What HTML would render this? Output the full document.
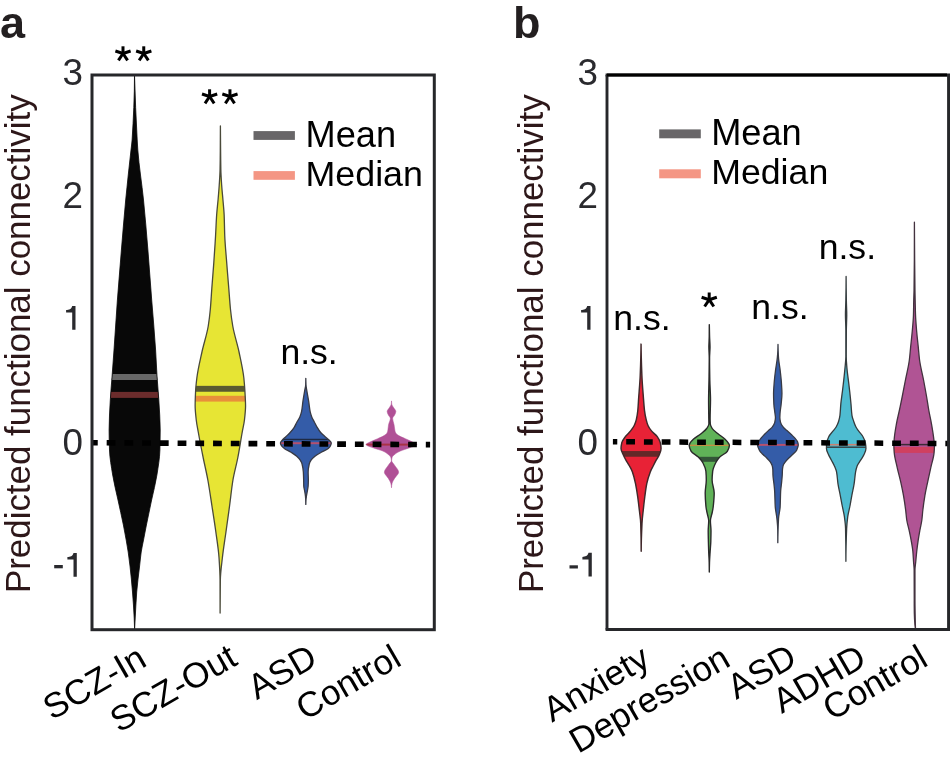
<!DOCTYPE html>
<html><head><meta charset="utf-8"><style>
html,body{margin:0;padding:0;background:#fff;width:950px;height:768px;overflow:hidden}
svg{display:block;will-change:transform}
text{font-family:"Liberation Sans",sans-serif}
</style></head><body>
<svg width="950" height="768" viewBox="0 0 950 768">
<rect width="950" height="768" fill="#fff"/>
<defs>
<clipPath id="c_sczin"><path d="M134.50,75.00 C135.05,96.67 136.09,118.33 137.20,140.00 C137.37,143.33 137.55,146.67 137.80,150.00 C139.03,166.67 141.84,183.33 143.50,200.00 C145.16,216.67 146.54,233.33 147.90,250.00 C149.26,266.67 150.42,283.33 151.70,300.00 C152.98,316.67 154.56,333.33 155.60,350.00 C156.14,358.67 156.46,367.33 157.00,376.00 C157.50,384.00 158.34,392.00 158.80,400.00 C159.38,410.00 160.20,420.00 160.20,430.00 C160.20,436.67 160.07,443.33 159.90,450.00 C159.68,458.33 158.18,466.67 156.90,475.00 C155.62,483.33 153.35,491.67 151.60,500.00 C149.85,508.33 148.06,516.67 146.40,525.00 C145.40,530.00 144.46,535.00 143.50,540.00 C142.73,544.00 141.78,548.00 141.20,552.00 C140.53,556.67 140.13,561.33 139.60,566.00 C138.62,574.67 137.36,583.33 136.70,592.00 C136.04,600.67 135.67,609.33 135.20,618.00 C134.99,621.83 134.79,625.67 134.60,629.50 C134.50,625.67 134.37,621.83 134.20,618.00 C133.82,609.33 133.17,600.67 132.50,592.00 C131.83,583.33 130.97,574.67 130.00,566.00 C129.48,561.33 128.88,556.67 128.20,552.00 C127.62,548.00 126.90,544.00 126.20,540.00 C125.32,535.00 124.40,530.00 123.40,525.00 C121.74,516.67 119.78,508.33 118.00,500.00 C116.22,491.67 114.03,483.33 112.70,475.00 C111.37,466.67 109.78,458.33 109.50,450.00 C109.28,443.33 109.10,436.67 109.10,430.00 C109.10,420.00 109.77,410.00 110.30,400.00 C110.72,392.00 111.51,384.00 112.10,376.00 C112.74,367.33 113.39,358.67 114.00,350.00 C115.18,333.33 116.17,316.67 117.40,300.00 C118.63,283.33 120.02,266.67 121.40,250.00 C122.78,233.33 124.12,216.67 125.70,200.00 C127.28,183.33 129.19,166.67 131.00,150.00 C131.36,146.67 131.89,143.33 132.10,140.00 C133.46,118.33 134.50,96.67 134.50,75.00Z"/></clipPath>
<clipPath id="c_sczout"><path d="M220.40,126.00 C220.45,134.00 220.52,142.00 220.60,150.00 C220.67,156.67 220.71,163.33 220.85,170.00 C220.95,175.00 221.32,180.00 221.65,185.00 C221.98,190.00 222.53,195.00 222.95,200.00 C223.37,205.00 223.93,210.00 224.15,215.00 C224.45,222.00 224.47,229.00 224.75,236.00 C225.10,244.67 225.99,253.33 226.65,262.00 C227.31,270.67 228.05,279.33 228.75,288.00 C229.35,295.33 229.79,302.67 230.55,310.00 C231.10,315.33 231.83,320.67 232.75,326.00 C234.24,334.67 237.23,343.33 239.05,352.00 C240.87,360.67 242.93,369.33 243.85,378.00 C244.34,382.67 244.69,387.33 244.95,392.00 C245.21,396.67 245.55,401.33 245.55,406.00 C245.55,410.67 244.97,415.33 244.45,420.00 C244.01,424.00 242.96,428.00 242.25,432.00 C240.70,440.67 239.43,449.33 237.75,458.00 C236.33,465.33 234.16,472.67 232.95,480.00 C231.52,488.67 230.72,497.33 229.55,506.00 C228.38,514.67 227.15,523.33 225.95,532.00 C224.75,540.67 223.30,549.33 222.35,558.00 C221.55,565.33 220.46,572.67 220.35,580.00 C220.19,591.00 220.10,602.00 220.10,613.00 C220.10,602.00 220.08,591.00 220.05,580.00 C220.03,572.67 219.53,565.33 219.05,558.00 C218.48,549.33 217.02,540.67 215.85,532.00 C214.68,523.33 213.28,514.67 211.95,506.00 C210.62,497.33 209.41,488.67 207.85,480.00 C206.53,472.67 204.72,465.33 203.25,458.00 C201.51,449.33 199.78,440.67 198.25,432.00 C197.54,428.00 196.68,424.00 196.25,420.00 C195.75,415.33 195.15,410.67 195.15,406.00 C195.15,401.33 195.35,396.67 195.55,392.00 C195.75,387.33 196.28,382.67 196.85,378.00 C197.90,369.33 200.07,360.67 201.95,352.00 C203.83,343.33 206.86,334.67 208.25,326.00 C209.11,320.67 209.75,315.33 210.25,310.00 C210.93,302.67 211.30,295.33 211.85,288.00 C212.50,279.33 213.24,270.67 213.85,262.00 C214.46,253.33 215.05,244.67 215.55,236.00 C215.96,229.00 216.17,222.00 216.65,215.00 C216.99,210.00 217.62,205.00 218.05,200.00 C218.48,195.00 218.93,190.00 219.25,185.00 C219.57,180.00 219.95,175.00 220.05,170.00 C220.19,163.33 220.26,156.67 220.30,150.00 C220.35,142.00 220.40,134.00 220.40,126.00Z"/></clipPath>
<clipPath id="c_asda"><path d="M305.80,378.30 C305.80,380.53 305.89,382.77 306.00,385.00 C306.10,386.93 306.55,388.87 306.85,390.80 C307.40,394.27 308.11,397.73 308.65,401.20 C309.20,404.70 309.44,408.20 310.15,411.70 C310.50,413.43 311.08,415.17 311.75,416.90 C312.40,418.60 313.47,420.30 314.35,422.00 C315.27,423.77 316.10,425.53 317.15,427.30 C318.18,429.03 319.21,430.77 320.65,432.50 C321.82,433.90 323.59,435.30 325.15,436.70 C326.37,437.80 327.94,438.90 328.95,440.00 C329.87,441.00 331.25,442.00 331.25,443.00 C331.25,444.00 330.81,445.00 330.35,446.00 C329.99,446.80 329.17,447.60 328.25,448.40 C326.76,449.70 323.46,451.00 321.25,452.30 C319.04,453.60 316.53,454.90 314.95,456.20 C313.33,457.53 311.90,458.87 311.05,460.20 C310.24,461.47 309.54,462.73 309.25,464.00 C308.64,466.67 308.15,469.33 308.15,472.00 C308.15,474.67 308.35,477.33 308.35,480.00 C308.35,482.00 308.26,484.00 308.15,486.00 C308.07,487.33 307.77,488.67 307.55,490.00 C307.22,492.00 306.75,494.00 306.45,496.00 C306.28,497.17 306.07,498.33 306.00,499.50 C305.90,501.13 305.80,502.77 305.80,504.40 C305.80,502.77 305.75,501.13 305.70,499.50 C305.66,498.33 305.56,497.17 305.45,496.00 C305.26,494.00 304.79,492.00 304.45,490.00 C304.22,488.67 303.79,487.33 303.75,486.00 C303.69,484.00 303.70,482.00 303.65,480.00 C303.59,477.33 303.51,474.67 303.35,472.00 C303.19,469.33 302.74,466.67 302.05,464.00 C301.72,462.73 301.03,461.47 300.25,460.20 C299.43,458.87 298.21,457.53 296.75,456.20 C295.33,454.90 293.12,453.60 291.05,452.30 C288.98,451.00 285.96,449.70 284.25,448.40 C283.20,447.60 282.13,446.80 281.65,446.00 C281.06,445.00 280.45,444.00 280.45,443.00 C280.45,442.00 281.64,441.00 282.45,440.00 C283.34,438.90 284.72,437.80 285.85,436.70 C287.29,435.30 288.90,433.90 290.15,432.50 C291.70,430.77 293.18,429.03 294.25,427.30 C295.34,425.53 296.00,423.77 296.95,422.00 C297.86,420.30 299.14,418.60 299.85,416.90 C300.57,415.17 301.21,413.43 301.55,411.70 C302.25,408.20 302.44,404.70 302.95,401.20 C303.46,397.73 304.05,394.27 304.65,390.80 C304.98,388.87 305.65,386.93 305.70,385.00 C305.76,382.77 305.80,380.53 305.80,378.30Z"/></clipPath>
<clipPath id="c_ctla"><path d="M391.50,400.90 C391.50,402.00 391.60,403.10 391.75,404.20 C391.90,405.30 392.93,406.40 393.55,407.50 C394.30,408.83 395.85,410.17 395.85,411.50 C395.85,412.60 395.21,413.70 394.75,414.80 C394.23,416.03 392.65,417.27 392.65,418.50 C392.65,420.57 393.69,422.63 394.05,424.70 C394.37,426.53 394.47,428.37 394.85,430.20 C395.04,431.13 395.28,432.07 395.75,433.00 C396.19,433.87 397.46,434.73 398.75,435.60 C400.28,436.63 403.13,437.67 405.35,438.70 C407.57,439.73 410.10,440.77 412.05,441.80 C413.81,442.73 416.75,443.67 416.75,444.60 C416.75,445.73 411.80,446.87 408.95,448.00 C406.35,449.03 402.56,450.07 400.35,451.10 C398.14,452.13 396.18,453.17 394.95,454.20 C393.72,455.23 392.43,456.27 392.15,457.30 C391.86,458.37 391.65,459.43 391.65,460.50 C391.65,462.07 393.61,463.63 394.55,465.20 C395.95,467.53 398.65,469.87 398.65,472.20 C398.65,474.27 395.73,476.33 394.55,478.40 C393.65,479.97 392.49,481.53 392.15,483.10 C391.81,484.67 391.50,486.23 391.50,487.80 C391.50,486.23 391.13,484.67 390.75,483.10 C390.37,481.53 389.24,479.97 388.35,478.40 C387.18,476.33 384.35,474.27 384.35,472.20 C384.35,469.87 386.94,467.53 388.35,465.20 C389.30,463.63 391.35,462.07 391.35,460.50 C391.35,459.43 391.08,458.37 390.75,457.30 C390.43,456.27 389.15,455.23 387.95,454.20 C386.75,453.17 385.13,452.13 382.95,451.10 C380.77,450.07 376.20,449.03 373.55,448.00 C370.65,446.87 366.05,445.73 366.05,444.60 C366.05,443.67 368.71,442.73 370.45,441.80 C372.38,440.77 375.39,439.73 377.65,438.70 C379.91,437.67 382.53,436.63 384.05,435.60 C385.32,434.73 386.65,433.87 387.05,433.00 C387.48,432.07 387.68,431.13 387.85,430.20 C388.19,428.37 388.23,426.53 388.55,424.70 C388.91,422.63 390.35,420.57 390.35,418.50 C390.35,417.27 388.77,416.03 388.25,414.80 C387.79,413.70 387.15,412.60 387.15,411.50 C387.15,410.17 388.70,408.83 389.45,407.50 C390.07,406.40 391.10,405.30 391.25,404.20 C391.40,403.10 391.50,402.00 391.50,400.90Z"/></clipPath>
<clipPath id="c_anx"><path d="M641.05,344.10 C641.08,354.47 641.47,364.83 641.88,375.20 C642.18,383.00 642.88,390.80 643.48,398.60 C643.78,402.50 644.02,406.40 644.48,410.30 C644.84,413.43 645.44,416.57 646.17,419.70 C646.63,421.63 647.16,423.57 647.98,425.50 C648.73,427.30 650.06,429.10 651.48,430.90 C652.99,432.83 655.97,434.77 657.27,436.70 C658.60,438.67 659.85,440.63 660.27,442.60 C660.69,444.53 661.07,446.47 661.07,448.40 C661.07,450.37 660.19,452.33 659.48,454.30 C658.76,456.27 657.23,458.23 656.17,460.20 C655.14,462.13 654.15,464.07 653.18,466.00 C652.18,467.97 651.03,469.93 650.27,471.90 C648.78,475.80 647.56,479.70 646.77,483.60 C645.88,488.07 645.36,492.53 644.77,497.00 C644.21,501.33 643.73,505.67 643.27,510.00 C642.80,514.47 642.18,518.93 641.98,523.40 C641.55,532.67 641.20,541.93 641.20,551.20 C641.20,541.93 641.02,532.67 640.73,523.40 C640.58,518.93 639.83,514.47 639.32,510.00 C638.84,505.67 638.33,501.33 637.73,497.00 C637.10,492.53 636.44,488.07 635.52,483.60 C634.73,479.70 633.82,475.80 632.43,471.90 C631.72,469.93 630.56,467.97 629.48,466.00 C628.41,464.07 626.98,462.13 625.92,460.20 C624.85,458.23 623.81,456.27 623.02,454.30 C622.24,452.33 621.02,450.37 621.02,448.40 C621.02,446.47 621.39,444.53 621.82,442.60 C622.26,440.63 623.91,438.67 625.32,436.70 C626.72,434.77 629.14,432.83 630.62,430.90 C632.01,429.10 633.38,427.30 634.23,425.50 C635.14,423.57 635.88,421.63 636.33,419.70 C637.04,416.57 637.52,413.43 637.83,410.30 C638.20,406.40 638.36,402.50 638.62,398.60 C639.16,390.80 639.92,383.00 640.22,375.20 C640.63,364.83 641.02,354.47 641.05,344.10Z"/></clipPath>
<clipPath id="c_dep"><path d="M709.30,324.60 C709.35,328.40 709.44,332.20 709.55,336.00 C709.65,339.67 710.00,343.33 710.00,347.00 C710.00,350.67 709.55,354.33 709.55,358.00 C709.55,365.33 709.67,372.67 709.80,380.00 C709.92,386.67 710.50,393.33 710.50,400.00 C710.50,406.13 710.10,412.27 710.10,418.40 C710.10,420.27 710.17,422.13 710.30,424.00 C710.40,425.50 711.30,427.00 712.20,428.50 C713.26,430.27 715.89,432.03 718.00,433.80 C720.07,435.53 723.01,437.27 724.80,439.00 C726.28,440.43 727.71,441.87 728.50,443.30 C728.89,444.00 729.40,444.70 729.40,445.40 C729.40,447.37 728.40,449.33 727.30,451.30 C726.22,453.23 721.46,455.17 719.70,457.10 C717.91,459.07 716.54,461.03 715.60,463.00 C714.30,465.73 713.01,468.47 712.70,471.20 C712.36,474.13 712.10,477.07 712.10,480.00 C712.10,484.33 714.20,488.67 714.20,493.00 C714.20,497.33 713.75,501.67 713.30,506.00 C713.09,508.00 712.67,510.00 712.30,512.00 C711.75,514.93 710.40,517.87 710.40,520.80 C710.40,524.20 711.00,527.60 711.00,531.00 C711.00,534.57 710.90,538.13 710.80,541.70 C710.70,545.13 710.31,548.57 710.10,552.00 C709.88,555.50 709.61,559.00 709.50,562.50 C709.40,565.67 709.31,568.83 709.30,572.00 C709.30,568.83 709.25,565.67 709.20,562.50 C709.14,559.00 708.83,555.50 708.70,552.00 C708.58,548.57 708.48,545.13 708.40,541.70 C708.32,538.13 708.20,534.57 708.20,531.00 C708.20,527.60 708.70,524.20 708.70,520.80 C708.70,517.87 707.44,514.93 706.90,512.00 C706.54,510.00 706.07,508.00 705.90,506.00 C705.52,501.67 705.20,497.33 705.20,493.00 C705.20,488.67 706.30,484.33 706.30,480.00 C706.30,477.07 706.14,474.13 705.90,471.20 C705.68,468.47 704.37,465.73 703.00,463.00 C702.02,461.03 700.20,459.07 698.30,457.10 C696.43,455.17 692.23,453.23 691.20,451.30 C690.15,449.33 689.20,447.37 689.20,445.40 C689.20,444.70 689.58,444.00 689.90,443.30 C690.56,441.87 692.07,440.43 693.60,439.00 C695.44,437.27 698.88,435.53 701.00,433.80 C703.17,432.03 705.52,430.27 706.70,428.50 C707.70,427.00 708.90,425.50 708.90,424.00 C708.90,422.13 708.83,420.27 708.80,418.40 C708.71,412.27 708.60,406.13 708.60,400.00 C708.60,393.33 708.90,386.67 709.00,380.00 C709.11,372.67 709.25,365.33 709.25,358.00 C709.25,354.33 708.90,350.67 708.90,347.00 C708.90,343.33 709.22,339.67 709.25,336.00 C709.28,332.20 709.30,328.40 709.30,324.60Z"/></clipPath>
<clipPath id="c_asdb"><path d="M778.00,344.40 C778.02,346.60 778.08,348.80 778.15,351.00 C778.23,353.47 778.37,355.93 778.55,358.40 C778.84,362.33 779.69,366.27 780.15,370.20 C780.61,374.10 781.08,378.00 781.35,381.90 C781.62,385.80 781.95,389.70 781.95,393.60 C781.95,397.10 781.48,400.60 781.15,404.10 C780.86,407.13 780.23,410.17 780.05,413.20 C779.96,414.73 779.85,416.27 779.85,417.80 C779.85,419.30 780.19,420.80 780.55,422.30 C780.92,423.83 781.94,425.37 783.05,426.90 C783.94,428.13 785.62,429.37 786.95,430.60 C788.35,431.90 789.89,433.20 791.25,434.50 C792.61,435.80 794.09,437.10 795.15,438.40 C796.13,439.60 797.28,440.80 797.65,442.00 C797.96,443.00 798.25,444.00 798.25,445.00 C798.25,446.73 797.47,448.47 796.65,450.20 C796.05,451.47 794.41,452.73 793.15,454.00 C791.83,455.33 790.15,456.67 788.85,458.00 C787.58,459.30 786.28,460.60 785.35,461.90 C784.42,463.20 783.37,464.50 783.05,465.80 C782.73,467.10 782.53,468.40 782.45,469.70 C782.34,471.47 782.34,473.23 782.25,475.00 C782.11,477.67 781.81,480.33 781.55,483.00 C781.28,485.73 780.79,488.47 780.65,491.20 C780.38,496.37 780.43,501.53 780.15,506.70 C779.94,510.60 778.81,514.50 778.55,518.40 C778.30,522.27 778.16,526.13 778.05,530.00 C777.93,534.23 777.83,538.47 777.80,542.70 C777.80,538.47 777.78,534.23 777.75,530.00 C777.72,526.13 777.27,522.27 776.90,518.40 C776.52,514.50 775.49,510.60 775.25,506.70 C774.93,501.53 774.95,496.37 774.65,491.20 C774.49,488.47 774.14,485.73 773.85,483.00 C773.57,480.33 773.03,477.67 772.95,475.00 C772.90,473.23 772.91,471.47 772.85,469.70 C772.80,468.40 772.56,467.10 772.25,465.80 C771.94,464.50 771.10,463.20 770.25,461.90 C769.40,460.60 768.02,459.30 766.75,458.00 C765.45,456.67 763.69,455.33 762.45,454.00 C761.28,452.73 759.98,451.47 759.35,450.20 C758.49,448.47 757.55,446.73 757.55,445.00 C757.55,444.00 758.04,443.00 758.45,442.00 C758.94,440.80 759.93,439.60 760.85,438.40 C761.84,437.10 763.11,435.80 764.35,434.50 C765.59,433.20 766.96,431.90 768.35,430.60 C769.66,429.37 771.59,428.13 772.45,426.90 C773.52,425.37 774.39,423.83 774.75,422.30 C775.11,420.80 775.45,419.30 775.45,417.80 C775.45,416.27 775.12,414.73 774.95,413.20 C774.60,410.17 773.99,407.13 773.85,404.10 C773.69,400.60 773.55,397.10 773.55,393.60 C773.55,389.70 773.95,385.80 774.25,381.90 C774.55,378.00 775.06,374.10 775.55,370.20 C776.04,366.27 776.85,362.33 777.25,358.40 C777.50,355.93 777.76,353.47 777.85,351.00 C777.93,348.80 778.00,346.60 778.00,344.40Z"/></clipPath>
<clipPath id="c_adhd"><path d="M846.10,276.40 C846.11,284.27 846.23,292.13 846.35,300.00 C846.43,305.00 846.75,310.00 846.75,315.00 C846.75,320.00 846.39,325.00 846.35,330.00 C846.29,338.90 846.25,347.80 846.25,356.70 C846.25,360.60 846.64,364.50 846.95,368.40 C847.26,372.33 847.88,376.27 848.35,380.20 C848.81,384.10 849.32,388.00 849.75,391.90 C850.18,395.80 850.59,399.70 850.95,403.60 C851.31,407.50 851.40,411.40 851.95,415.30 C852.23,417.27 852.99,419.23 853.65,421.20 C854.30,423.13 854.97,425.07 855.95,427.00 C856.61,428.30 857.63,429.60 858.55,430.90 C859.92,432.83 861.93,434.77 862.95,436.70 C863.99,438.67 865.03,440.63 865.35,442.60 C865.67,444.53 865.95,446.47 865.95,448.40 C865.95,450.37 864.94,452.33 864.15,454.30 C863.36,456.27 861.83,458.23 860.65,460.20 C859.49,462.13 857.86,464.07 857.15,466.00 C856.43,467.97 855.94,469.93 855.60,471.90 C854.92,475.80 854.74,479.70 854.15,483.60 C853.56,487.50 852.57,491.40 851.85,495.30 C851.25,498.53 850.76,501.77 850.15,505.00 C849.41,508.90 848.25,512.80 847.75,516.70 C847.25,520.60 846.81,524.50 846.65,528.40 C846.20,539.35 845.90,550.30 845.90,561.25 C845.90,550.30 845.79,539.35 845.55,528.40 C845.46,524.50 844.91,520.60 844.40,516.70 C843.89,512.80 842.80,508.90 842.05,505.00 C841.43,501.77 840.87,498.53 840.25,495.30 C839.51,491.40 838.53,487.50 837.95,483.60 C837.37,479.70 837.29,475.80 836.55,471.90 C836.17,469.93 835.24,467.97 834.40,466.00 C833.58,464.07 832.45,462.13 831.45,460.20 C830.43,458.23 829.14,456.27 828.35,454.30 C827.56,452.33 826.45,450.37 826.45,448.40 C826.45,446.47 826.58,444.53 826.75,442.60 C826.93,440.63 827.83,438.67 828.75,436.70 C829.66,434.77 831.67,432.83 833.15,430.90 C834.14,429.60 835.42,428.30 836.15,427.00 C837.24,425.07 838.09,423.13 838.65,421.20 C839.22,419.23 839.71,417.27 839.95,415.30 C840.42,411.40 840.48,407.50 840.85,403.60 C841.23,399.70 841.87,395.80 842.35,391.90 C842.83,388.00 843.32,384.10 843.75,380.20 C844.18,376.27 844.61,372.33 844.95,368.40 C845.29,364.50 845.85,360.60 845.85,356.70 C845.85,347.80 845.85,338.90 845.85,330.00 C845.85,325.00 845.45,320.00 845.45,315.00 C845.45,310.00 845.77,305.00 845.85,300.00 C845.97,292.13 846.09,284.27 846.10,276.40Z"/></clipPath>
<clipPath id="c_ctlb"><path d="M914.40,222.20 C914.46,234.80 914.55,247.40 914.65,260.00 C914.73,270.00 914.81,280.00 914.95,290.00 C915.00,293.33 915.08,296.67 915.15,300.00 C915.27,305.20 915.35,310.40 915.55,315.60 C915.75,320.80 916.22,326.00 916.65,331.20 C917.09,336.43 917.72,341.67 918.25,346.90 C918.69,351.27 918.98,355.63 919.55,360.00 C920.41,366.67 922.28,373.33 923.55,380.00 C924.63,385.67 925.68,391.33 926.65,397.00 C927.39,401.33 927.98,405.67 928.75,410.00 C929.59,414.77 930.73,419.53 931.55,424.30 C932.37,429.07 933.20,433.83 933.75,438.60 C934.03,441.00 934.45,443.40 934.45,445.80 C934.45,448.17 934.25,450.53 934.05,452.90 C933.65,457.70 931.90,462.50 930.85,467.30 C929.80,472.07 928.75,476.83 927.75,481.60 C926.75,486.37 925.65,491.13 924.85,495.90 C924.07,500.60 923.40,505.30 922.85,510.00 C922.46,513.33 922.29,516.67 921.85,520.00 C921.39,523.47 920.47,526.93 919.85,530.40 C919.23,533.87 918.61,537.33 918.10,540.80 C917.59,544.27 917.13,547.73 916.75,551.20 C916.37,554.70 916.09,558.20 915.75,561.70 C915.48,564.47 914.95,567.23 914.95,570.00 C914.95,580.00 914.95,590.00 914.95,600.00 C914.95,609.83 915.23,619.67 915.50,629.50 C913.99,619.67 914.25,609.83 914.25,600.00 C914.25,590.00 914.23,580.00 914.15,570.00 C914.13,567.23 913.74,564.47 913.55,561.70 C913.31,558.20 913.18,554.70 912.85,551.20 C912.53,547.73 911.86,544.27 911.25,540.80 C910.64,537.33 909.90,533.87 909.15,530.40 C908.40,526.93 907.27,523.47 906.75,520.00 C906.25,516.67 906.07,513.33 905.65,510.00 C905.06,505.30 904.36,500.60 903.55,495.90 C902.73,491.13 901.71,486.37 900.65,481.60 C899.59,476.83 898.20,472.07 897.15,467.30 C896.09,462.50 894.65,457.70 894.25,452.90 C894.05,450.53 893.85,448.17 893.85,445.80 C893.85,443.40 894.07,441.00 894.25,438.60 C894.62,433.83 895.52,429.07 896.35,424.30 C897.18,419.53 898.44,414.77 899.45,410.00 C900.37,405.67 901.28,401.33 902.15,397.00 C903.29,391.33 904.35,385.67 905.45,380.00 C906.75,373.33 908.49,366.67 909.35,360.00 C909.91,355.63 910.21,351.27 910.65,346.90 C911.18,341.67 911.79,336.43 912.25,331.20 C912.71,326.00 913.29,320.80 913.45,315.60 C913.61,310.40 913.63,305.20 913.75,300.00 C913.83,296.67 914.00,293.33 914.05,290.00 C914.21,280.00 914.33,270.00 914.35,260.00 C914.38,247.40 914.40,234.80 914.40,222.20Z"/></clipPath>
</defs>
<path d="M134.50,75.00 C135.05,96.67 136.09,118.33 137.20,140.00 C137.37,143.33 137.55,146.67 137.80,150.00 C139.03,166.67 141.84,183.33 143.50,200.00 C145.16,216.67 146.54,233.33 147.90,250.00 C149.26,266.67 150.42,283.33 151.70,300.00 C152.98,316.67 154.56,333.33 155.60,350.00 C156.14,358.67 156.46,367.33 157.00,376.00 C157.50,384.00 158.34,392.00 158.80,400.00 C159.38,410.00 160.20,420.00 160.20,430.00 C160.20,436.67 160.07,443.33 159.90,450.00 C159.68,458.33 158.18,466.67 156.90,475.00 C155.62,483.33 153.35,491.67 151.60,500.00 C149.85,508.33 148.06,516.67 146.40,525.00 C145.40,530.00 144.46,535.00 143.50,540.00 C142.73,544.00 141.78,548.00 141.20,552.00 C140.53,556.67 140.13,561.33 139.60,566.00 C138.62,574.67 137.36,583.33 136.70,592.00 C136.04,600.67 135.67,609.33 135.20,618.00 C134.99,621.83 134.79,625.67 134.60,629.50 C134.50,625.67 134.37,621.83 134.20,618.00 C133.82,609.33 133.17,600.67 132.50,592.00 C131.83,583.33 130.97,574.67 130.00,566.00 C129.48,561.33 128.88,556.67 128.20,552.00 C127.62,548.00 126.90,544.00 126.20,540.00 C125.32,535.00 124.40,530.00 123.40,525.00 C121.74,516.67 119.78,508.33 118.00,500.00 C116.22,491.67 114.03,483.33 112.70,475.00 C111.37,466.67 109.78,458.33 109.50,450.00 C109.28,443.33 109.10,436.67 109.10,430.00 C109.10,420.00 109.77,410.00 110.30,400.00 C110.72,392.00 111.51,384.00 112.10,376.00 C112.74,367.33 113.39,358.67 114.00,350.00 C115.18,333.33 116.17,316.67 117.40,300.00 C118.63,283.33 120.02,266.67 121.40,250.00 C122.78,233.33 124.12,216.67 125.70,200.00 C127.28,183.33 129.19,166.67 131.00,150.00 C131.36,146.67 131.89,143.33 132.10,140.00 C133.46,118.33 134.50,96.67 134.50,75.00Z" fill="#080808"/>
<path d="M220.40,126.00 C220.45,134.00 220.52,142.00 220.60,150.00 C220.67,156.67 220.71,163.33 220.85,170.00 C220.95,175.00 221.32,180.00 221.65,185.00 C221.98,190.00 222.53,195.00 222.95,200.00 C223.37,205.00 223.93,210.00 224.15,215.00 C224.45,222.00 224.47,229.00 224.75,236.00 C225.10,244.67 225.99,253.33 226.65,262.00 C227.31,270.67 228.05,279.33 228.75,288.00 C229.35,295.33 229.79,302.67 230.55,310.00 C231.10,315.33 231.83,320.67 232.75,326.00 C234.24,334.67 237.23,343.33 239.05,352.00 C240.87,360.67 242.93,369.33 243.85,378.00 C244.34,382.67 244.69,387.33 244.95,392.00 C245.21,396.67 245.55,401.33 245.55,406.00 C245.55,410.67 244.97,415.33 244.45,420.00 C244.01,424.00 242.96,428.00 242.25,432.00 C240.70,440.67 239.43,449.33 237.75,458.00 C236.33,465.33 234.16,472.67 232.95,480.00 C231.52,488.67 230.72,497.33 229.55,506.00 C228.38,514.67 227.15,523.33 225.95,532.00 C224.75,540.67 223.30,549.33 222.35,558.00 C221.55,565.33 220.46,572.67 220.35,580.00 C220.19,591.00 220.10,602.00 220.10,613.00 C220.10,602.00 220.08,591.00 220.05,580.00 C220.03,572.67 219.53,565.33 219.05,558.00 C218.48,549.33 217.02,540.67 215.85,532.00 C214.68,523.33 213.28,514.67 211.95,506.00 C210.62,497.33 209.41,488.67 207.85,480.00 C206.53,472.67 204.72,465.33 203.25,458.00 C201.51,449.33 199.78,440.67 198.25,432.00 C197.54,428.00 196.68,424.00 196.25,420.00 C195.75,415.33 195.15,410.67 195.15,406.00 C195.15,401.33 195.35,396.67 195.55,392.00 C195.75,387.33 196.28,382.67 196.85,378.00 C197.90,369.33 200.07,360.67 201.95,352.00 C203.83,343.33 206.86,334.67 208.25,326.00 C209.11,320.67 209.75,315.33 210.25,310.00 C210.93,302.67 211.30,295.33 211.85,288.00 C212.50,279.33 213.24,270.67 213.85,262.00 C214.46,253.33 215.05,244.67 215.55,236.00 C215.96,229.00 216.17,222.00 216.65,215.00 C216.99,210.00 217.62,205.00 218.05,200.00 C218.48,195.00 218.93,190.00 219.25,185.00 C219.57,180.00 219.95,175.00 220.05,170.00 C220.19,163.33 220.26,156.67 220.30,150.00 C220.35,142.00 220.40,134.00 220.40,126.00Z" fill="#e7e534"/>
<path d="M305.80,378.30 C305.80,380.53 305.89,382.77 306.00,385.00 C306.10,386.93 306.55,388.87 306.85,390.80 C307.40,394.27 308.11,397.73 308.65,401.20 C309.20,404.70 309.44,408.20 310.15,411.70 C310.50,413.43 311.08,415.17 311.75,416.90 C312.40,418.60 313.47,420.30 314.35,422.00 C315.27,423.77 316.10,425.53 317.15,427.30 C318.18,429.03 319.21,430.77 320.65,432.50 C321.82,433.90 323.59,435.30 325.15,436.70 C326.37,437.80 327.94,438.90 328.95,440.00 C329.87,441.00 331.25,442.00 331.25,443.00 C331.25,444.00 330.81,445.00 330.35,446.00 C329.99,446.80 329.17,447.60 328.25,448.40 C326.76,449.70 323.46,451.00 321.25,452.30 C319.04,453.60 316.53,454.90 314.95,456.20 C313.33,457.53 311.90,458.87 311.05,460.20 C310.24,461.47 309.54,462.73 309.25,464.00 C308.64,466.67 308.15,469.33 308.15,472.00 C308.15,474.67 308.35,477.33 308.35,480.00 C308.35,482.00 308.26,484.00 308.15,486.00 C308.07,487.33 307.77,488.67 307.55,490.00 C307.22,492.00 306.75,494.00 306.45,496.00 C306.28,497.17 306.07,498.33 306.00,499.50 C305.90,501.13 305.80,502.77 305.80,504.40 C305.80,502.77 305.75,501.13 305.70,499.50 C305.66,498.33 305.56,497.17 305.45,496.00 C305.26,494.00 304.79,492.00 304.45,490.00 C304.22,488.67 303.79,487.33 303.75,486.00 C303.69,484.00 303.70,482.00 303.65,480.00 C303.59,477.33 303.51,474.67 303.35,472.00 C303.19,469.33 302.74,466.67 302.05,464.00 C301.72,462.73 301.03,461.47 300.25,460.20 C299.43,458.87 298.21,457.53 296.75,456.20 C295.33,454.90 293.12,453.60 291.05,452.30 C288.98,451.00 285.96,449.70 284.25,448.40 C283.20,447.60 282.13,446.80 281.65,446.00 C281.06,445.00 280.45,444.00 280.45,443.00 C280.45,442.00 281.64,441.00 282.45,440.00 C283.34,438.90 284.72,437.80 285.85,436.70 C287.29,435.30 288.90,433.90 290.15,432.50 C291.70,430.77 293.18,429.03 294.25,427.30 C295.34,425.53 296.00,423.77 296.95,422.00 C297.86,420.30 299.14,418.60 299.85,416.90 C300.57,415.17 301.21,413.43 301.55,411.70 C302.25,408.20 302.44,404.70 302.95,401.20 C303.46,397.73 304.05,394.27 304.65,390.80 C304.98,388.87 305.65,386.93 305.70,385.00 C305.76,382.77 305.80,380.53 305.80,378.30Z" fill="#345ca8"/>
<path d="M391.50,400.90 C391.50,402.00 391.60,403.10 391.75,404.20 C391.90,405.30 392.93,406.40 393.55,407.50 C394.30,408.83 395.85,410.17 395.85,411.50 C395.85,412.60 395.21,413.70 394.75,414.80 C394.23,416.03 392.65,417.27 392.65,418.50 C392.65,420.57 393.69,422.63 394.05,424.70 C394.37,426.53 394.47,428.37 394.85,430.20 C395.04,431.13 395.28,432.07 395.75,433.00 C396.19,433.87 397.46,434.73 398.75,435.60 C400.28,436.63 403.13,437.67 405.35,438.70 C407.57,439.73 410.10,440.77 412.05,441.80 C413.81,442.73 416.75,443.67 416.75,444.60 C416.75,445.73 411.80,446.87 408.95,448.00 C406.35,449.03 402.56,450.07 400.35,451.10 C398.14,452.13 396.18,453.17 394.95,454.20 C393.72,455.23 392.43,456.27 392.15,457.30 C391.86,458.37 391.65,459.43 391.65,460.50 C391.65,462.07 393.61,463.63 394.55,465.20 C395.95,467.53 398.65,469.87 398.65,472.20 C398.65,474.27 395.73,476.33 394.55,478.40 C393.65,479.97 392.49,481.53 392.15,483.10 C391.81,484.67 391.50,486.23 391.50,487.80 C391.50,486.23 391.13,484.67 390.75,483.10 C390.37,481.53 389.24,479.97 388.35,478.40 C387.18,476.33 384.35,474.27 384.35,472.20 C384.35,469.87 386.94,467.53 388.35,465.20 C389.30,463.63 391.35,462.07 391.35,460.50 C391.35,459.43 391.08,458.37 390.75,457.30 C390.43,456.27 389.15,455.23 387.95,454.20 C386.75,453.17 385.13,452.13 382.95,451.10 C380.77,450.07 376.20,449.03 373.55,448.00 C370.65,446.87 366.05,445.73 366.05,444.60 C366.05,443.67 368.71,442.73 370.45,441.80 C372.38,440.77 375.39,439.73 377.65,438.70 C379.91,437.67 382.53,436.63 384.05,435.60 C385.32,434.73 386.65,433.87 387.05,433.00 C387.48,432.07 387.68,431.13 387.85,430.20 C388.19,428.37 388.23,426.53 388.55,424.70 C388.91,422.63 390.35,420.57 390.35,418.50 C390.35,417.27 388.77,416.03 388.25,414.80 C387.79,413.70 387.15,412.60 387.15,411.50 C387.15,410.17 388.70,408.83 389.45,407.50 C390.07,406.40 391.10,405.30 391.25,404.20 C391.40,403.10 391.50,402.00 391.50,400.90Z" fill="#b05096"/>
<path d="M641.05,344.10 C641.08,354.47 641.47,364.83 641.88,375.20 C642.18,383.00 642.88,390.80 643.48,398.60 C643.78,402.50 644.02,406.40 644.48,410.30 C644.84,413.43 645.44,416.57 646.17,419.70 C646.63,421.63 647.16,423.57 647.98,425.50 C648.73,427.30 650.06,429.10 651.48,430.90 C652.99,432.83 655.97,434.77 657.27,436.70 C658.60,438.67 659.85,440.63 660.27,442.60 C660.69,444.53 661.07,446.47 661.07,448.40 C661.07,450.37 660.19,452.33 659.48,454.30 C658.76,456.27 657.23,458.23 656.17,460.20 C655.14,462.13 654.15,464.07 653.18,466.00 C652.18,467.97 651.03,469.93 650.27,471.90 C648.78,475.80 647.56,479.70 646.77,483.60 C645.88,488.07 645.36,492.53 644.77,497.00 C644.21,501.33 643.73,505.67 643.27,510.00 C642.80,514.47 642.18,518.93 641.98,523.40 C641.55,532.67 641.20,541.93 641.20,551.20 C641.20,541.93 641.02,532.67 640.73,523.40 C640.58,518.93 639.83,514.47 639.32,510.00 C638.84,505.67 638.33,501.33 637.73,497.00 C637.10,492.53 636.44,488.07 635.52,483.60 C634.73,479.70 633.82,475.80 632.43,471.90 C631.72,469.93 630.56,467.97 629.48,466.00 C628.41,464.07 626.98,462.13 625.92,460.20 C624.85,458.23 623.81,456.27 623.02,454.30 C622.24,452.33 621.02,450.37 621.02,448.40 C621.02,446.47 621.39,444.53 621.82,442.60 C622.26,440.63 623.91,438.67 625.32,436.70 C626.72,434.77 629.14,432.83 630.62,430.90 C632.01,429.10 633.38,427.30 634.23,425.50 C635.14,423.57 635.88,421.63 636.33,419.70 C637.04,416.57 637.52,413.43 637.83,410.30 C638.20,406.40 638.36,402.50 638.62,398.60 C639.16,390.80 639.92,383.00 640.22,375.20 C640.63,364.83 641.02,354.47 641.05,344.10Z" fill="#e82236"/>
<path d="M709.30,324.60 C709.35,328.40 709.44,332.20 709.55,336.00 C709.65,339.67 710.00,343.33 710.00,347.00 C710.00,350.67 709.55,354.33 709.55,358.00 C709.55,365.33 709.67,372.67 709.80,380.00 C709.92,386.67 710.50,393.33 710.50,400.00 C710.50,406.13 710.10,412.27 710.10,418.40 C710.10,420.27 710.17,422.13 710.30,424.00 C710.40,425.50 711.30,427.00 712.20,428.50 C713.26,430.27 715.89,432.03 718.00,433.80 C720.07,435.53 723.01,437.27 724.80,439.00 C726.28,440.43 727.71,441.87 728.50,443.30 C728.89,444.00 729.40,444.70 729.40,445.40 C729.40,447.37 728.40,449.33 727.30,451.30 C726.22,453.23 721.46,455.17 719.70,457.10 C717.91,459.07 716.54,461.03 715.60,463.00 C714.30,465.73 713.01,468.47 712.70,471.20 C712.36,474.13 712.10,477.07 712.10,480.00 C712.10,484.33 714.20,488.67 714.20,493.00 C714.20,497.33 713.75,501.67 713.30,506.00 C713.09,508.00 712.67,510.00 712.30,512.00 C711.75,514.93 710.40,517.87 710.40,520.80 C710.40,524.20 711.00,527.60 711.00,531.00 C711.00,534.57 710.90,538.13 710.80,541.70 C710.70,545.13 710.31,548.57 710.10,552.00 C709.88,555.50 709.61,559.00 709.50,562.50 C709.40,565.67 709.31,568.83 709.30,572.00 C709.30,568.83 709.25,565.67 709.20,562.50 C709.14,559.00 708.83,555.50 708.70,552.00 C708.58,548.57 708.48,545.13 708.40,541.70 C708.32,538.13 708.20,534.57 708.20,531.00 C708.20,527.60 708.70,524.20 708.70,520.80 C708.70,517.87 707.44,514.93 706.90,512.00 C706.54,510.00 706.07,508.00 705.90,506.00 C705.52,501.67 705.20,497.33 705.20,493.00 C705.20,488.67 706.30,484.33 706.30,480.00 C706.30,477.07 706.14,474.13 705.90,471.20 C705.68,468.47 704.37,465.73 703.00,463.00 C702.02,461.03 700.20,459.07 698.30,457.10 C696.43,455.17 692.23,453.23 691.20,451.30 C690.15,449.33 689.20,447.37 689.20,445.40 C689.20,444.70 689.58,444.00 689.90,443.30 C690.56,441.87 692.07,440.43 693.60,439.00 C695.44,437.27 698.88,435.53 701.00,433.80 C703.17,432.03 705.52,430.27 706.70,428.50 C707.70,427.00 708.90,425.50 708.90,424.00 C708.90,422.13 708.83,420.27 708.80,418.40 C708.71,412.27 708.60,406.13 708.60,400.00 C708.60,393.33 708.90,386.67 709.00,380.00 C709.11,372.67 709.25,365.33 709.25,358.00 C709.25,354.33 708.90,350.67 708.90,347.00 C708.90,343.33 709.22,339.67 709.25,336.00 C709.28,332.20 709.30,328.40 709.30,324.60Z" fill="#60b258"/>
<path d="M778.00,344.40 C778.02,346.60 778.08,348.80 778.15,351.00 C778.23,353.47 778.37,355.93 778.55,358.40 C778.84,362.33 779.69,366.27 780.15,370.20 C780.61,374.10 781.08,378.00 781.35,381.90 C781.62,385.80 781.95,389.70 781.95,393.60 C781.95,397.10 781.48,400.60 781.15,404.10 C780.86,407.13 780.23,410.17 780.05,413.20 C779.96,414.73 779.85,416.27 779.85,417.80 C779.85,419.30 780.19,420.80 780.55,422.30 C780.92,423.83 781.94,425.37 783.05,426.90 C783.94,428.13 785.62,429.37 786.95,430.60 C788.35,431.90 789.89,433.20 791.25,434.50 C792.61,435.80 794.09,437.10 795.15,438.40 C796.13,439.60 797.28,440.80 797.65,442.00 C797.96,443.00 798.25,444.00 798.25,445.00 C798.25,446.73 797.47,448.47 796.65,450.20 C796.05,451.47 794.41,452.73 793.15,454.00 C791.83,455.33 790.15,456.67 788.85,458.00 C787.58,459.30 786.28,460.60 785.35,461.90 C784.42,463.20 783.37,464.50 783.05,465.80 C782.73,467.10 782.53,468.40 782.45,469.70 C782.34,471.47 782.34,473.23 782.25,475.00 C782.11,477.67 781.81,480.33 781.55,483.00 C781.28,485.73 780.79,488.47 780.65,491.20 C780.38,496.37 780.43,501.53 780.15,506.70 C779.94,510.60 778.81,514.50 778.55,518.40 C778.30,522.27 778.16,526.13 778.05,530.00 C777.93,534.23 777.83,538.47 777.80,542.70 C777.80,538.47 777.78,534.23 777.75,530.00 C777.72,526.13 777.27,522.27 776.90,518.40 C776.52,514.50 775.49,510.60 775.25,506.70 C774.93,501.53 774.95,496.37 774.65,491.20 C774.49,488.47 774.14,485.73 773.85,483.00 C773.57,480.33 773.03,477.67 772.95,475.00 C772.90,473.23 772.91,471.47 772.85,469.70 C772.80,468.40 772.56,467.10 772.25,465.80 C771.94,464.50 771.10,463.20 770.25,461.90 C769.40,460.60 768.02,459.30 766.75,458.00 C765.45,456.67 763.69,455.33 762.45,454.00 C761.28,452.73 759.98,451.47 759.35,450.20 C758.49,448.47 757.55,446.73 757.55,445.00 C757.55,444.00 758.04,443.00 758.45,442.00 C758.94,440.80 759.93,439.60 760.85,438.40 C761.84,437.10 763.11,435.80 764.35,434.50 C765.59,433.20 766.96,431.90 768.35,430.60 C769.66,429.37 771.59,428.13 772.45,426.90 C773.52,425.37 774.39,423.83 774.75,422.30 C775.11,420.80 775.45,419.30 775.45,417.80 C775.45,416.27 775.12,414.73 774.95,413.20 C774.60,410.17 773.99,407.13 773.85,404.10 C773.69,400.60 773.55,397.10 773.55,393.60 C773.55,389.70 773.95,385.80 774.25,381.90 C774.55,378.00 775.06,374.10 775.55,370.20 C776.04,366.27 776.85,362.33 777.25,358.40 C777.50,355.93 777.76,353.47 777.85,351.00 C777.93,348.80 778.00,346.60 778.00,344.40Z" fill="#345ca8"/>
<path d="M846.10,276.40 C846.11,284.27 846.23,292.13 846.35,300.00 C846.43,305.00 846.75,310.00 846.75,315.00 C846.75,320.00 846.39,325.00 846.35,330.00 C846.29,338.90 846.25,347.80 846.25,356.70 C846.25,360.60 846.64,364.50 846.95,368.40 C847.26,372.33 847.88,376.27 848.35,380.20 C848.81,384.10 849.32,388.00 849.75,391.90 C850.18,395.80 850.59,399.70 850.95,403.60 C851.31,407.50 851.40,411.40 851.95,415.30 C852.23,417.27 852.99,419.23 853.65,421.20 C854.30,423.13 854.97,425.07 855.95,427.00 C856.61,428.30 857.63,429.60 858.55,430.90 C859.92,432.83 861.93,434.77 862.95,436.70 C863.99,438.67 865.03,440.63 865.35,442.60 C865.67,444.53 865.95,446.47 865.95,448.40 C865.95,450.37 864.94,452.33 864.15,454.30 C863.36,456.27 861.83,458.23 860.65,460.20 C859.49,462.13 857.86,464.07 857.15,466.00 C856.43,467.97 855.94,469.93 855.60,471.90 C854.92,475.80 854.74,479.70 854.15,483.60 C853.56,487.50 852.57,491.40 851.85,495.30 C851.25,498.53 850.76,501.77 850.15,505.00 C849.41,508.90 848.25,512.80 847.75,516.70 C847.25,520.60 846.81,524.50 846.65,528.40 C846.20,539.35 845.90,550.30 845.90,561.25 C845.90,550.30 845.79,539.35 845.55,528.40 C845.46,524.50 844.91,520.60 844.40,516.70 C843.89,512.80 842.80,508.90 842.05,505.00 C841.43,501.77 840.87,498.53 840.25,495.30 C839.51,491.40 838.53,487.50 837.95,483.60 C837.37,479.70 837.29,475.80 836.55,471.90 C836.17,469.93 835.24,467.97 834.40,466.00 C833.58,464.07 832.45,462.13 831.45,460.20 C830.43,458.23 829.14,456.27 828.35,454.30 C827.56,452.33 826.45,450.37 826.45,448.40 C826.45,446.47 826.58,444.53 826.75,442.60 C826.93,440.63 827.83,438.67 828.75,436.70 C829.66,434.77 831.67,432.83 833.15,430.90 C834.14,429.60 835.42,428.30 836.15,427.00 C837.24,425.07 838.09,423.13 838.65,421.20 C839.22,419.23 839.71,417.27 839.95,415.30 C840.42,411.40 840.48,407.50 840.85,403.60 C841.23,399.70 841.87,395.80 842.35,391.90 C842.83,388.00 843.32,384.10 843.75,380.20 C844.18,376.27 844.61,372.33 844.95,368.40 C845.29,364.50 845.85,360.60 845.85,356.70 C845.85,347.80 845.85,338.90 845.85,330.00 C845.85,325.00 845.45,320.00 845.45,315.00 C845.45,310.00 845.77,305.00 845.85,300.00 C845.97,292.13 846.09,284.27 846.10,276.40Z" fill="#4ebcd1"/>
<path d="M914.40,222.20 C914.46,234.80 914.55,247.40 914.65,260.00 C914.73,270.00 914.81,280.00 914.95,290.00 C915.00,293.33 915.08,296.67 915.15,300.00 C915.27,305.20 915.35,310.40 915.55,315.60 C915.75,320.80 916.22,326.00 916.65,331.20 C917.09,336.43 917.72,341.67 918.25,346.90 C918.69,351.27 918.98,355.63 919.55,360.00 C920.41,366.67 922.28,373.33 923.55,380.00 C924.63,385.67 925.68,391.33 926.65,397.00 C927.39,401.33 927.98,405.67 928.75,410.00 C929.59,414.77 930.73,419.53 931.55,424.30 C932.37,429.07 933.20,433.83 933.75,438.60 C934.03,441.00 934.45,443.40 934.45,445.80 C934.45,448.17 934.25,450.53 934.05,452.90 C933.65,457.70 931.90,462.50 930.85,467.30 C929.80,472.07 928.75,476.83 927.75,481.60 C926.75,486.37 925.65,491.13 924.85,495.90 C924.07,500.60 923.40,505.30 922.85,510.00 C922.46,513.33 922.29,516.67 921.85,520.00 C921.39,523.47 920.47,526.93 919.85,530.40 C919.23,533.87 918.61,537.33 918.10,540.80 C917.59,544.27 917.13,547.73 916.75,551.20 C916.37,554.70 916.09,558.20 915.75,561.70 C915.48,564.47 914.95,567.23 914.95,570.00 C914.95,580.00 914.95,590.00 914.95,600.00 C914.95,609.83 915.23,619.67 915.50,629.50 C913.99,619.67 914.25,609.83 914.25,600.00 C914.25,590.00 914.23,580.00 914.15,570.00 C914.13,567.23 913.74,564.47 913.55,561.70 C913.31,558.20 913.18,554.70 912.85,551.20 C912.53,547.73 911.86,544.27 911.25,540.80 C910.64,537.33 909.90,533.87 909.15,530.40 C908.40,526.93 907.27,523.47 906.75,520.00 C906.25,516.67 906.07,513.33 905.65,510.00 C905.06,505.30 904.36,500.60 903.55,495.90 C902.73,491.13 901.71,486.37 900.65,481.60 C899.59,476.83 898.20,472.07 897.15,467.30 C896.09,462.50 894.65,457.70 894.25,452.90 C894.05,450.53 893.85,448.17 893.85,445.80 C893.85,443.40 894.07,441.00 894.25,438.60 C894.62,433.83 895.52,429.07 896.35,424.30 C897.18,419.53 898.44,414.77 899.45,410.00 C900.37,405.67 901.28,401.33 902.15,397.00 C903.29,391.33 904.35,385.67 905.45,380.00 C906.75,373.33 908.49,366.67 909.35,360.00 C909.91,355.63 910.21,351.27 910.65,346.90 C911.18,341.67 911.79,336.43 912.25,331.20 C912.71,326.00 913.29,320.80 913.45,315.60 C913.61,310.40 913.63,305.20 913.75,300.00 C913.83,296.67 914.00,293.33 914.05,290.00 C914.21,280.00 914.33,270.00 914.35,260.00 C914.38,247.40 914.40,234.80 914.40,222.20Z" fill="#b05494"/>
<rect x="105.62" y="374.00" width="57.85" height="6.00" fill="#686868" clip-path="url(#c_sczin)"/>
<rect x="104.28" y="391.90" width="60.53" height="6.00" fill="#6b2c2c" clip-path="url(#c_sczin)"/>
<rect x="189.20" y="385.85" width="62.15" height="5.90" fill="#5a5a30" clip-path="url(#c_sczout)"/>
<rect x="188.71" y="395.80" width="63.18" height="5.80" fill="#e88f3a" clip-path="url(#c_sczout)"/>
<rect x="276.32" y="438.75" width="58.71" height="1.50" fill="#1e2a44" clip-path="url(#c_asda)"/>
<rect x="273.88" y="442.20" width="63.96" height="2.00" fill="#b4506e" clip-path="url(#c_asda)"/>
<rect x="359.80" y="443.60" width="63.20" height="2.00" fill="#a83246" clip-path="url(#c_ctla)"/>
<rect x="616.16" y="451.05" width="50.14" height="5.70" fill="#642828" clip-path="url(#c_anx)"/>
<rect x="682.53" y="444.70" width="53.52" height="1.20" fill="#d08a40" clip-path="url(#c_dep)"/>
<rect x="693.35" y="456.80" width="31.52" height="5.00" fill="#325537" clip-path="url(#c_dep)"/>
<rect x="750.93" y="443.90" width="53.95" height="2.00" fill="#b4506e" clip-path="url(#c_asdb)"/>
<rect x="819.99" y="443.90" width="52.23" height="1.60" fill="#c88070" clip-path="url(#c_adhd)"/>
<rect x="819.86" y="446.50" width="52.61" height="1.40" fill="#353b3d" clip-path="url(#c_adhd)"/>
<rect x="887.27" y="443.85" width="53.72" height="1.50" fill="#3a2a36" clip-path="url(#c_ctlb)"/>
<rect x="887.43" y="446.90" width="53.44" height="6.00" fill="#d04060" clip-path="url(#c_ctlb)"/>
<path d="M134.50,75.00 C135.05,96.67 136.09,118.33 137.20,140.00 C137.37,143.33 137.55,146.67 137.80,150.00 C139.03,166.67 141.84,183.33 143.50,200.00 C145.16,216.67 146.54,233.33 147.90,250.00 C149.26,266.67 150.42,283.33 151.70,300.00 C152.98,316.67 154.56,333.33 155.60,350.00 C156.14,358.67 156.46,367.33 157.00,376.00 C157.50,384.00 158.34,392.00 158.80,400.00 C159.38,410.00 160.20,420.00 160.20,430.00 C160.20,436.67 160.07,443.33 159.90,450.00 C159.68,458.33 158.18,466.67 156.90,475.00 C155.62,483.33 153.35,491.67 151.60,500.00 C149.85,508.33 148.06,516.67 146.40,525.00 C145.40,530.00 144.46,535.00 143.50,540.00 C142.73,544.00 141.78,548.00 141.20,552.00 C140.53,556.67 140.13,561.33 139.60,566.00 C138.62,574.67 137.36,583.33 136.70,592.00 C136.04,600.67 135.67,609.33 135.20,618.00 C134.99,621.83 134.79,625.67 134.60,629.50 C134.50,625.67 134.37,621.83 134.20,618.00 C133.82,609.33 133.17,600.67 132.50,592.00 C131.83,583.33 130.97,574.67 130.00,566.00 C129.48,561.33 128.88,556.67 128.20,552.00 C127.62,548.00 126.90,544.00 126.20,540.00 C125.32,535.00 124.40,530.00 123.40,525.00 C121.74,516.67 119.78,508.33 118.00,500.00 C116.22,491.67 114.03,483.33 112.70,475.00 C111.37,466.67 109.78,458.33 109.50,450.00 C109.28,443.33 109.10,436.67 109.10,430.00 C109.10,420.00 109.77,410.00 110.30,400.00 C110.72,392.00 111.51,384.00 112.10,376.00 C112.74,367.33 113.39,358.67 114.00,350.00 C115.18,333.33 116.17,316.67 117.40,300.00 C118.63,283.33 120.02,266.67 121.40,250.00 C122.78,233.33 124.12,216.67 125.70,200.00 C127.28,183.33 129.19,166.67 131.00,150.00 C131.36,146.67 131.89,143.33 132.10,140.00 C133.46,118.33 134.50,96.67 134.50,75.00Z" fill="none" stroke="#080808" stroke-width="0.80" stroke-linejoin="round"/>
<path d="M220.40,126.00 C220.45,134.00 220.52,142.00 220.60,150.00 C220.67,156.67 220.71,163.33 220.85,170.00 C220.95,175.00 221.32,180.00 221.65,185.00 C221.98,190.00 222.53,195.00 222.95,200.00 C223.37,205.00 223.93,210.00 224.15,215.00 C224.45,222.00 224.47,229.00 224.75,236.00 C225.10,244.67 225.99,253.33 226.65,262.00 C227.31,270.67 228.05,279.33 228.75,288.00 C229.35,295.33 229.79,302.67 230.55,310.00 C231.10,315.33 231.83,320.67 232.75,326.00 C234.24,334.67 237.23,343.33 239.05,352.00 C240.87,360.67 242.93,369.33 243.85,378.00 C244.34,382.67 244.69,387.33 244.95,392.00 C245.21,396.67 245.55,401.33 245.55,406.00 C245.55,410.67 244.97,415.33 244.45,420.00 C244.01,424.00 242.96,428.00 242.25,432.00 C240.70,440.67 239.43,449.33 237.75,458.00 C236.33,465.33 234.16,472.67 232.95,480.00 C231.52,488.67 230.72,497.33 229.55,506.00 C228.38,514.67 227.15,523.33 225.95,532.00 C224.75,540.67 223.30,549.33 222.35,558.00 C221.55,565.33 220.46,572.67 220.35,580.00 C220.19,591.00 220.10,602.00 220.10,613.00 C220.10,602.00 220.08,591.00 220.05,580.00 C220.03,572.67 219.53,565.33 219.05,558.00 C218.48,549.33 217.02,540.67 215.85,532.00 C214.68,523.33 213.28,514.67 211.95,506.00 C210.62,497.33 209.41,488.67 207.85,480.00 C206.53,472.67 204.72,465.33 203.25,458.00 C201.51,449.33 199.78,440.67 198.25,432.00 C197.54,428.00 196.68,424.00 196.25,420.00 C195.75,415.33 195.15,410.67 195.15,406.00 C195.15,401.33 195.35,396.67 195.55,392.00 C195.75,387.33 196.28,382.67 196.85,378.00 C197.90,369.33 200.07,360.67 201.95,352.00 C203.83,343.33 206.86,334.67 208.25,326.00 C209.11,320.67 209.75,315.33 210.25,310.00 C210.93,302.67 211.30,295.33 211.85,288.00 C212.50,279.33 213.24,270.67 213.85,262.00 C214.46,253.33 215.05,244.67 215.55,236.00 C215.96,229.00 216.17,222.00 216.65,215.00 C216.99,210.00 217.62,205.00 218.05,200.00 C218.48,195.00 218.93,190.00 219.25,185.00 C219.57,180.00 219.95,175.00 220.05,170.00 C220.19,163.33 220.26,156.67 220.30,150.00 C220.35,142.00 220.40,134.00 220.40,126.00Z" fill="none" stroke="#4a4a3a" stroke-width="1.30" stroke-linejoin="round"/>
<path d="M305.80,378.30 C305.80,380.53 305.89,382.77 306.00,385.00 C306.10,386.93 306.55,388.87 306.85,390.80 C307.40,394.27 308.11,397.73 308.65,401.20 C309.20,404.70 309.44,408.20 310.15,411.70 C310.50,413.43 311.08,415.17 311.75,416.90 C312.40,418.60 313.47,420.30 314.35,422.00 C315.27,423.77 316.10,425.53 317.15,427.30 C318.18,429.03 319.21,430.77 320.65,432.50 C321.82,433.90 323.59,435.30 325.15,436.70 C326.37,437.80 327.94,438.90 328.95,440.00 C329.87,441.00 331.25,442.00 331.25,443.00 C331.25,444.00 330.81,445.00 330.35,446.00 C329.99,446.80 329.17,447.60 328.25,448.40 C326.76,449.70 323.46,451.00 321.25,452.30 C319.04,453.60 316.53,454.90 314.95,456.20 C313.33,457.53 311.90,458.87 311.05,460.20 C310.24,461.47 309.54,462.73 309.25,464.00 C308.64,466.67 308.15,469.33 308.15,472.00 C308.15,474.67 308.35,477.33 308.35,480.00 C308.35,482.00 308.26,484.00 308.15,486.00 C308.07,487.33 307.77,488.67 307.55,490.00 C307.22,492.00 306.75,494.00 306.45,496.00 C306.28,497.17 306.07,498.33 306.00,499.50 C305.90,501.13 305.80,502.77 305.80,504.40 C305.80,502.77 305.75,501.13 305.70,499.50 C305.66,498.33 305.56,497.17 305.45,496.00 C305.26,494.00 304.79,492.00 304.45,490.00 C304.22,488.67 303.79,487.33 303.75,486.00 C303.69,484.00 303.70,482.00 303.65,480.00 C303.59,477.33 303.51,474.67 303.35,472.00 C303.19,469.33 302.74,466.67 302.05,464.00 C301.72,462.73 301.03,461.47 300.25,460.20 C299.43,458.87 298.21,457.53 296.75,456.20 C295.33,454.90 293.12,453.60 291.05,452.30 C288.98,451.00 285.96,449.70 284.25,448.40 C283.20,447.60 282.13,446.80 281.65,446.00 C281.06,445.00 280.45,444.00 280.45,443.00 C280.45,442.00 281.64,441.00 282.45,440.00 C283.34,438.90 284.72,437.80 285.85,436.70 C287.29,435.30 288.90,433.90 290.15,432.50 C291.70,430.77 293.18,429.03 294.25,427.30 C295.34,425.53 296.00,423.77 296.95,422.00 C297.86,420.30 299.14,418.60 299.85,416.90 C300.57,415.17 301.21,413.43 301.55,411.70 C302.25,408.20 302.44,404.70 302.95,401.20 C303.46,397.73 304.05,394.27 304.65,390.80 C304.98,388.87 305.65,386.93 305.70,385.00 C305.76,382.77 305.80,380.53 305.80,378.30Z" fill="none" stroke="#383a44" stroke-width="1.30" stroke-linejoin="round"/>
<path d="M391.50,400.90 C391.50,402.00 391.60,403.10 391.75,404.20 C391.90,405.30 392.93,406.40 393.55,407.50 C394.30,408.83 395.85,410.17 395.85,411.50 C395.85,412.60 395.21,413.70 394.75,414.80 C394.23,416.03 392.65,417.27 392.65,418.50 C392.65,420.57 393.69,422.63 394.05,424.70 C394.37,426.53 394.47,428.37 394.85,430.20 C395.04,431.13 395.28,432.07 395.75,433.00 C396.19,433.87 397.46,434.73 398.75,435.60 C400.28,436.63 403.13,437.67 405.35,438.70 C407.57,439.73 410.10,440.77 412.05,441.80 C413.81,442.73 416.75,443.67 416.75,444.60 C416.75,445.73 411.80,446.87 408.95,448.00 C406.35,449.03 402.56,450.07 400.35,451.10 C398.14,452.13 396.18,453.17 394.95,454.20 C393.72,455.23 392.43,456.27 392.15,457.30 C391.86,458.37 391.65,459.43 391.65,460.50 C391.65,462.07 393.61,463.63 394.55,465.20 C395.95,467.53 398.65,469.87 398.65,472.20 C398.65,474.27 395.73,476.33 394.55,478.40 C393.65,479.97 392.49,481.53 392.15,483.10 C391.81,484.67 391.50,486.23 391.50,487.80 C391.50,486.23 391.13,484.67 390.75,483.10 C390.37,481.53 389.24,479.97 388.35,478.40 C387.18,476.33 384.35,474.27 384.35,472.20 C384.35,469.87 386.94,467.53 388.35,465.20 C389.30,463.63 391.35,462.07 391.35,460.50 C391.35,459.43 391.08,458.37 390.75,457.30 C390.43,456.27 389.15,455.23 387.95,454.20 C386.75,453.17 385.13,452.13 382.95,451.10 C380.77,450.07 376.20,449.03 373.55,448.00 C370.65,446.87 366.05,445.73 366.05,444.60 C366.05,443.67 368.71,442.73 370.45,441.80 C372.38,440.77 375.39,439.73 377.65,438.70 C379.91,437.67 382.53,436.63 384.05,435.60 C385.32,434.73 386.65,433.87 387.05,433.00 C387.48,432.07 387.68,431.13 387.85,430.20 C388.19,428.37 388.23,426.53 388.55,424.70 C388.91,422.63 390.35,420.57 390.35,418.50 C390.35,417.27 388.77,416.03 388.25,414.80 C387.79,413.70 387.15,412.60 387.15,411.50 C387.15,410.17 388.70,408.83 389.45,407.50 C390.07,406.40 391.10,405.30 391.25,404.20 C391.40,403.10 391.50,402.00 391.50,400.90Z" fill="none" stroke="#b05096" stroke-width="0.50" stroke-linejoin="round"/>
<path d="M641.05,344.10 C641.08,354.47 641.47,364.83 641.88,375.20 C642.18,383.00 642.88,390.80 643.48,398.60 C643.78,402.50 644.02,406.40 644.48,410.30 C644.84,413.43 645.44,416.57 646.17,419.70 C646.63,421.63 647.16,423.57 647.98,425.50 C648.73,427.30 650.06,429.10 651.48,430.90 C652.99,432.83 655.97,434.77 657.27,436.70 C658.60,438.67 659.85,440.63 660.27,442.60 C660.69,444.53 661.07,446.47 661.07,448.40 C661.07,450.37 660.19,452.33 659.48,454.30 C658.76,456.27 657.23,458.23 656.17,460.20 C655.14,462.13 654.15,464.07 653.18,466.00 C652.18,467.97 651.03,469.93 650.27,471.90 C648.78,475.80 647.56,479.70 646.77,483.60 C645.88,488.07 645.36,492.53 644.77,497.00 C644.21,501.33 643.73,505.67 643.27,510.00 C642.80,514.47 642.18,518.93 641.98,523.40 C641.55,532.67 641.20,541.93 641.20,551.20 C641.20,541.93 641.02,532.67 640.73,523.40 C640.58,518.93 639.83,514.47 639.32,510.00 C638.84,505.67 638.33,501.33 637.73,497.00 C637.10,492.53 636.44,488.07 635.52,483.60 C634.73,479.70 633.82,475.80 632.43,471.90 C631.72,469.93 630.56,467.97 629.48,466.00 C628.41,464.07 626.98,462.13 625.92,460.20 C624.85,458.23 623.81,456.27 623.02,454.30 C622.24,452.33 621.02,450.37 621.02,448.40 C621.02,446.47 621.39,444.53 621.82,442.60 C622.26,440.63 623.91,438.67 625.32,436.70 C626.72,434.77 629.14,432.83 630.62,430.90 C632.01,429.10 633.38,427.30 634.23,425.50 C635.14,423.57 635.88,421.63 636.33,419.70 C637.04,416.57 637.52,413.43 637.83,410.30 C638.20,406.40 638.36,402.50 638.62,398.60 C639.16,390.80 639.92,383.00 640.22,375.20 C640.63,364.83 641.02,354.47 641.05,344.10Z" fill="none" stroke="#40282a" stroke-width="1.45" stroke-linejoin="round"/>
<path d="M709.30,324.60 C709.35,328.40 709.44,332.20 709.55,336.00 C709.65,339.67 710.00,343.33 710.00,347.00 C710.00,350.67 709.55,354.33 709.55,358.00 C709.55,365.33 709.67,372.67 709.80,380.00 C709.92,386.67 710.50,393.33 710.50,400.00 C710.50,406.13 710.10,412.27 710.10,418.40 C710.10,420.27 710.17,422.13 710.30,424.00 C710.40,425.50 711.30,427.00 712.20,428.50 C713.26,430.27 715.89,432.03 718.00,433.80 C720.07,435.53 723.01,437.27 724.80,439.00 C726.28,440.43 727.71,441.87 728.50,443.30 C728.89,444.00 729.40,444.70 729.40,445.40 C729.40,447.37 728.40,449.33 727.30,451.30 C726.22,453.23 721.46,455.17 719.70,457.10 C717.91,459.07 716.54,461.03 715.60,463.00 C714.30,465.73 713.01,468.47 712.70,471.20 C712.36,474.13 712.10,477.07 712.10,480.00 C712.10,484.33 714.20,488.67 714.20,493.00 C714.20,497.33 713.75,501.67 713.30,506.00 C713.09,508.00 712.67,510.00 712.30,512.00 C711.75,514.93 710.40,517.87 710.40,520.80 C710.40,524.20 711.00,527.60 711.00,531.00 C711.00,534.57 710.90,538.13 710.80,541.70 C710.70,545.13 710.31,548.57 710.10,552.00 C709.88,555.50 709.61,559.00 709.50,562.50 C709.40,565.67 709.31,568.83 709.30,572.00 C709.30,568.83 709.25,565.67 709.20,562.50 C709.14,559.00 708.83,555.50 708.70,552.00 C708.58,548.57 708.48,545.13 708.40,541.70 C708.32,538.13 708.20,534.57 708.20,531.00 C708.20,527.60 708.70,524.20 708.70,520.80 C708.70,517.87 707.44,514.93 706.90,512.00 C706.54,510.00 706.07,508.00 705.90,506.00 C705.52,501.67 705.20,497.33 705.20,493.00 C705.20,488.67 706.30,484.33 706.30,480.00 C706.30,477.07 706.14,474.13 705.90,471.20 C705.68,468.47 704.37,465.73 703.00,463.00 C702.02,461.03 700.20,459.07 698.30,457.10 C696.43,455.17 692.23,453.23 691.20,451.30 C690.15,449.33 689.20,447.37 689.20,445.40 C689.20,444.70 689.58,444.00 689.90,443.30 C690.56,441.87 692.07,440.43 693.60,439.00 C695.44,437.27 698.88,435.53 701.00,433.80 C703.17,432.03 705.52,430.27 706.70,428.50 C707.70,427.00 708.90,425.50 708.90,424.00 C708.90,422.13 708.83,420.27 708.80,418.40 C708.71,412.27 708.60,406.13 708.60,400.00 C708.60,393.33 708.90,386.67 709.00,380.00 C709.11,372.67 709.25,365.33 709.25,358.00 C709.25,354.33 708.90,350.67 708.90,347.00 C708.90,343.33 709.22,339.67 709.25,336.00 C709.28,332.20 709.30,328.40 709.30,324.60Z" fill="none" stroke="#2a2a2a" stroke-width="1.40" stroke-linejoin="round"/>
<path d="M778.00,344.40 C778.02,346.60 778.08,348.80 778.15,351.00 C778.23,353.47 778.37,355.93 778.55,358.40 C778.84,362.33 779.69,366.27 780.15,370.20 C780.61,374.10 781.08,378.00 781.35,381.90 C781.62,385.80 781.95,389.70 781.95,393.60 C781.95,397.10 781.48,400.60 781.15,404.10 C780.86,407.13 780.23,410.17 780.05,413.20 C779.96,414.73 779.85,416.27 779.85,417.80 C779.85,419.30 780.19,420.80 780.55,422.30 C780.92,423.83 781.94,425.37 783.05,426.90 C783.94,428.13 785.62,429.37 786.95,430.60 C788.35,431.90 789.89,433.20 791.25,434.50 C792.61,435.80 794.09,437.10 795.15,438.40 C796.13,439.60 797.28,440.80 797.65,442.00 C797.96,443.00 798.25,444.00 798.25,445.00 C798.25,446.73 797.47,448.47 796.65,450.20 C796.05,451.47 794.41,452.73 793.15,454.00 C791.83,455.33 790.15,456.67 788.85,458.00 C787.58,459.30 786.28,460.60 785.35,461.90 C784.42,463.20 783.37,464.50 783.05,465.80 C782.73,467.10 782.53,468.40 782.45,469.70 C782.34,471.47 782.34,473.23 782.25,475.00 C782.11,477.67 781.81,480.33 781.55,483.00 C781.28,485.73 780.79,488.47 780.65,491.20 C780.38,496.37 780.43,501.53 780.15,506.70 C779.94,510.60 778.81,514.50 778.55,518.40 C778.30,522.27 778.16,526.13 778.05,530.00 C777.93,534.23 777.83,538.47 777.80,542.70 C777.80,538.47 777.78,534.23 777.75,530.00 C777.72,526.13 777.27,522.27 776.90,518.40 C776.52,514.50 775.49,510.60 775.25,506.70 C774.93,501.53 774.95,496.37 774.65,491.20 C774.49,488.47 774.14,485.73 773.85,483.00 C773.57,480.33 773.03,477.67 772.95,475.00 C772.90,473.23 772.91,471.47 772.85,469.70 C772.80,468.40 772.56,467.10 772.25,465.80 C771.94,464.50 771.10,463.20 770.25,461.90 C769.40,460.60 768.02,459.30 766.75,458.00 C765.45,456.67 763.69,455.33 762.45,454.00 C761.28,452.73 759.98,451.47 759.35,450.20 C758.49,448.47 757.55,446.73 757.55,445.00 C757.55,444.00 758.04,443.00 758.45,442.00 C758.94,440.80 759.93,439.60 760.85,438.40 C761.84,437.10 763.11,435.80 764.35,434.50 C765.59,433.20 766.96,431.90 768.35,430.60 C769.66,429.37 771.59,428.13 772.45,426.90 C773.52,425.37 774.39,423.83 774.75,422.30 C775.11,420.80 775.45,419.30 775.45,417.80 C775.45,416.27 775.12,414.73 774.95,413.20 C774.60,410.17 773.99,407.13 773.85,404.10 C773.69,400.60 773.55,397.10 773.55,393.60 C773.55,389.70 773.95,385.80 774.25,381.90 C774.55,378.00 775.06,374.10 775.55,370.20 C776.04,366.27 776.85,362.33 777.25,358.40 C777.50,355.93 777.76,353.47 777.85,351.00 C777.93,348.80 778.00,346.60 778.00,344.40Z" fill="none" stroke="#383a44" stroke-width="1.30" stroke-linejoin="round"/>
<path d="M846.10,276.40 C846.11,284.27 846.23,292.13 846.35,300.00 C846.43,305.00 846.75,310.00 846.75,315.00 C846.75,320.00 846.39,325.00 846.35,330.00 C846.29,338.90 846.25,347.80 846.25,356.70 C846.25,360.60 846.64,364.50 846.95,368.40 C847.26,372.33 847.88,376.27 848.35,380.20 C848.81,384.10 849.32,388.00 849.75,391.90 C850.18,395.80 850.59,399.70 850.95,403.60 C851.31,407.50 851.40,411.40 851.95,415.30 C852.23,417.27 852.99,419.23 853.65,421.20 C854.30,423.13 854.97,425.07 855.95,427.00 C856.61,428.30 857.63,429.60 858.55,430.90 C859.92,432.83 861.93,434.77 862.95,436.70 C863.99,438.67 865.03,440.63 865.35,442.60 C865.67,444.53 865.95,446.47 865.95,448.40 C865.95,450.37 864.94,452.33 864.15,454.30 C863.36,456.27 861.83,458.23 860.65,460.20 C859.49,462.13 857.86,464.07 857.15,466.00 C856.43,467.97 855.94,469.93 855.60,471.90 C854.92,475.80 854.74,479.70 854.15,483.60 C853.56,487.50 852.57,491.40 851.85,495.30 C851.25,498.53 850.76,501.77 850.15,505.00 C849.41,508.90 848.25,512.80 847.75,516.70 C847.25,520.60 846.81,524.50 846.65,528.40 C846.20,539.35 845.90,550.30 845.90,561.25 C845.90,550.30 845.79,539.35 845.55,528.40 C845.46,524.50 844.91,520.60 844.40,516.70 C843.89,512.80 842.80,508.90 842.05,505.00 C841.43,501.77 840.87,498.53 840.25,495.30 C839.51,491.40 838.53,487.50 837.95,483.60 C837.37,479.70 837.29,475.80 836.55,471.90 C836.17,469.93 835.24,467.97 834.40,466.00 C833.58,464.07 832.45,462.13 831.45,460.20 C830.43,458.23 829.14,456.27 828.35,454.30 C827.56,452.33 826.45,450.37 826.45,448.40 C826.45,446.47 826.58,444.53 826.75,442.60 C826.93,440.63 827.83,438.67 828.75,436.70 C829.66,434.77 831.67,432.83 833.15,430.90 C834.14,429.60 835.42,428.30 836.15,427.00 C837.24,425.07 838.09,423.13 838.65,421.20 C839.22,419.23 839.71,417.27 839.95,415.30 C840.42,411.40 840.48,407.50 840.85,403.60 C841.23,399.70 841.87,395.80 842.35,391.90 C842.83,388.00 843.32,384.10 843.75,380.20 C844.18,376.27 844.61,372.33 844.95,368.40 C845.29,364.50 845.85,360.60 845.85,356.70 C845.85,347.80 845.85,338.90 845.85,330.00 C845.85,325.00 845.45,320.00 845.45,315.00 C845.45,310.00 845.77,305.00 845.85,300.00 C845.97,292.13 846.09,284.27 846.10,276.40Z" fill="none" stroke="#353b3d" stroke-width="1.30" stroke-linejoin="round"/>
<path d="M914.40,222.20 C914.46,234.80 914.55,247.40 914.65,260.00 C914.73,270.00 914.81,280.00 914.95,290.00 C915.00,293.33 915.08,296.67 915.15,300.00 C915.27,305.20 915.35,310.40 915.55,315.60 C915.75,320.80 916.22,326.00 916.65,331.20 C917.09,336.43 917.72,341.67 918.25,346.90 C918.69,351.27 918.98,355.63 919.55,360.00 C920.41,366.67 922.28,373.33 923.55,380.00 C924.63,385.67 925.68,391.33 926.65,397.00 C927.39,401.33 927.98,405.67 928.75,410.00 C929.59,414.77 930.73,419.53 931.55,424.30 C932.37,429.07 933.20,433.83 933.75,438.60 C934.03,441.00 934.45,443.40 934.45,445.80 C934.45,448.17 934.25,450.53 934.05,452.90 C933.65,457.70 931.90,462.50 930.85,467.30 C929.80,472.07 928.75,476.83 927.75,481.60 C926.75,486.37 925.65,491.13 924.85,495.90 C924.07,500.60 923.40,505.30 922.85,510.00 C922.46,513.33 922.29,516.67 921.85,520.00 C921.39,523.47 920.47,526.93 919.85,530.40 C919.23,533.87 918.61,537.33 918.10,540.80 C917.59,544.27 917.13,547.73 916.75,551.20 C916.37,554.70 916.09,558.20 915.75,561.70 C915.48,564.47 914.95,567.23 914.95,570.00 C914.95,580.00 914.95,590.00 914.95,600.00 C914.95,609.83 915.23,619.67 915.50,629.50 C913.99,619.67 914.25,609.83 914.25,600.00 C914.25,590.00 914.23,580.00 914.15,570.00 C914.13,567.23 913.74,564.47 913.55,561.70 C913.31,558.20 913.18,554.70 912.85,551.20 C912.53,547.73 911.86,544.27 911.25,540.80 C910.64,537.33 909.90,533.87 909.15,530.40 C908.40,526.93 907.27,523.47 906.75,520.00 C906.25,516.67 906.07,513.33 905.65,510.00 C905.06,505.30 904.36,500.60 903.55,495.90 C902.73,491.13 901.71,486.37 900.65,481.60 C899.59,476.83 898.20,472.07 897.15,467.30 C896.09,462.50 894.65,457.70 894.25,452.90 C894.05,450.53 893.85,448.17 893.85,445.80 C893.85,443.40 894.07,441.00 894.25,438.60 C894.62,433.83 895.52,429.07 896.35,424.30 C897.18,419.53 898.44,414.77 899.45,410.00 C900.37,405.67 901.28,401.33 902.15,397.00 C903.29,391.33 904.35,385.67 905.45,380.00 C906.75,373.33 908.49,366.67 909.35,360.00 C909.91,355.63 910.21,351.27 910.65,346.90 C911.18,341.67 911.79,336.43 912.25,331.20 C912.71,326.00 913.29,320.80 913.45,315.60 C913.61,310.40 913.63,305.20 913.75,300.00 C913.83,296.67 914.00,293.33 914.05,290.00 C914.21,280.00 914.33,270.00 914.35,260.00 C914.38,247.40 914.40,234.80 914.40,222.20Z" fill="none" stroke="#43323f" stroke-width="1.30" stroke-linejoin="round"/>
<line x1="92.8" y1="442.7" x2="430.1" y2="444.6" stroke="#000" stroke-width="5.6" stroke-dasharray="8.8 8.93" stroke-dashoffset="3.85"/>
<line x1="612.9" y1="441.75" x2="950" y2="443.5" stroke="#000" stroke-width="5.5" stroke-dasharray="8.8 8.93" stroke-dashoffset="4.43"/>
<rect x="92" y="75" width="342.3" height="554.7" fill="none" stroke="#26272a" stroke-width="3"/>
<path d="M607,629.7 V75" fill="none" stroke="#26272a" stroke-width="2.9"/>
<path d="M605.6,75 H948.6 V629.6 H605.6" fill="none" stroke="#26272a" stroke-width="3"/>
<path d="M607,75 H947" fill="none" stroke="#000" stroke-width="3"/>
<g stroke="#000" stroke-width="3.0" stroke-linecap="butt">
<line x1="123.00" y1="53.50" x2="123.00" y2="46.30"/><line x1="123.00" y1="53.50" x2="115.39" y2="51.03"/><line x1="123.00" y1="53.50" x2="130.61" y2="51.03"/><line x1="123.00" y1="53.50" x2="118.41" y2="60.30"/><line x1="123.00" y1="53.50" x2="127.59" y2="60.30"/>
<line x1="143.75" y1="53.50" x2="143.75" y2="46.30"/><line x1="143.75" y1="53.50" x2="136.14" y2="51.03"/><line x1="143.75" y1="53.50" x2="151.36" y2="51.03"/><line x1="143.75" y1="53.50" x2="139.16" y2="60.30"/><line x1="143.75" y1="53.50" x2="148.34" y2="60.30"/>
<line x1="209.60" y1="96.50" x2="209.60" y2="89.30"/><line x1="209.60" y1="96.50" x2="201.99" y2="94.03"/><line x1="209.60" y1="96.50" x2="217.21" y2="94.03"/><line x1="209.60" y1="96.50" x2="205.01" y2="103.30"/><line x1="209.60" y1="96.50" x2="214.19" y2="103.30"/>
<line x1="229.95" y1="96.50" x2="229.95" y2="89.30"/><line x1="229.95" y1="96.50" x2="222.34" y2="94.03"/><line x1="229.95" y1="96.50" x2="237.56" y2="94.03"/><line x1="229.95" y1="96.50" x2="225.36" y2="103.30"/><line x1="229.95" y1="96.50" x2="234.54" y2="103.30"/>
<line x1="709.20" y1="299.70" x2="709.20" y2="292.50"/><line x1="709.20" y1="299.70" x2="701.59" y2="297.23"/><line x1="709.20" y1="299.70" x2="716.81" y2="297.23"/><line x1="709.20" y1="299.70" x2="704.61" y2="306.50"/><line x1="709.20" y1="299.70" x2="713.79" y2="306.50"/>
</g>
<path d="M72.20,306.05 H75.50 V329.80 H72.20 V312.60 H66.10 V310.10 C68.90,310.00 71.50,309.20 72.20,306.05 Z" fill="#2a2a2e"/>
<path d="M73.50,553.00 H76.80 V576.75 H73.50 V559.55 H67.40 V557.05 C70.20,556.95 72.80,556.15 73.50,553.00 Z" fill="#2a2a2e"/>
<path d="M587.20,306.05 H590.50 V329.80 H587.20 V312.60 H581.10 V310.10 C583.90,310.00 586.50,309.20 587.20,306.05 Z" fill="#2a2a2e"/>
<path d="M588.50,552.85 H591.80 V576.60 H588.50 V559.40 H582.40 V556.90 C585.20,556.80 587.80,556.00 588.50,552.85 Z" fill="#2a2a2e"/>
<rect x="54.2" y="565" width="8.6" height="3.3" fill="#2a2a2e"/>
<rect x="569.5" y="565.3" width="8.4" height="3.2" fill="#2a2a2e"/>
<rect x="253.5" y="131.1" width="41.4" height="8.8" fill="#686668"/>
<rect x="253.5" y="171.1" width="41.4" height="8.7" fill="#f49684"/>
<rect x="659.2" y="129.4" width="41.6" height="8.9" fill="#686668"/>
<rect x="659.2" y="169.3" width="41.6" height="9.0" fill="#f49684"/>
<g style="font-family:'Liberation Sans',sans-serif">
<text x="0.00" y="37.70" font-size="45.00" text-anchor="start" fill="#231f20" font-weight="bold" >a</text>
<text x="513.00" y="37.70" font-size="45.00" text-anchor="start" fill="#231f20" font-weight="bold" >b</text>
<text x="83.00" y="84.90" font-size="36.80" text-anchor="end" fill="#2a2a2e" font-weight="normal" >3</text>
<text x="83.00" y="207.90" font-size="36.80" text-anchor="end" fill="#2a2a2e" font-weight="normal" >2</text>
<text x="83.00" y="454.50" font-size="36.80" text-anchor="end" fill="#2a2a2e" font-weight="normal" >0</text>
<text x="597.90" y="84.90" font-size="36.80" text-anchor="end" fill="#2a2a2e" font-weight="normal" >3</text>
<text x="597.90" y="207.90" font-size="36.80" text-anchor="end" fill="#2a2a2e" font-weight="normal" >2</text>
<text x="597.90" y="454.50" font-size="36.80" text-anchor="end" fill="#2a2a2e" font-weight="normal" >0</text>
<text x="0.00" y="0.00" font-size="34.92" text-anchor="middle" fill="#2d1719" font-weight="normal" transform="translate(29.9,343.75) rotate(-90)">Predicted functional connectivity</text>
<text x="0.00" y="0.00" font-size="34.92" text-anchor="middle" fill="#2d1719" font-weight="normal" transform="translate(542.5,343.75) rotate(-90)">Predicted functional connectivity</text>
<text x="305.50" y="147.00" font-size="36.20" text-anchor="start" fill="#000" font-weight="normal" >Mean</text>
<text x="305.50" y="186.40" font-size="35.80" text-anchor="start" fill="#000" font-weight="normal" >Median</text>
<text x="711.20" y="145.10" font-size="36.20" text-anchor="start" fill="#000" font-weight="normal" >Mean</text>
<text x="711.20" y="184.40" font-size="35.70" text-anchor="start" fill="#000" font-weight="normal" >Median</text>
<text x="280.40" y="363.70" font-size="35.60" text-anchor="start" fill="#000" font-weight="normal" >n.s.</text>
<text x="613.30" y="330.40" font-size="35.60" text-anchor="start" fill="#000" font-weight="normal" >n.s.</text>
<text x="751.30" y="319.35" font-size="35.60" text-anchor="start" fill="#000" font-weight="normal" >n.s.</text>
<text x="818.70" y="259.40" font-size="35.60" text-anchor="start" fill="#000" font-weight="normal" >n.s.</text>
<text x="0.00" y="0.00" font-size="35.20" text-anchor="end" fill="#000" font-weight="normal" transform="translate(148.50,664.90) rotate(-30)">SCZ-In</text>
<text x="0.00" y="0.00" font-size="35.20" text-anchor="end" fill="#000" font-weight="normal" transform="translate(239.20,663.90) rotate(-30)">SCZ-Out</text>
<text x="0.00" y="0.00" font-size="35.20" text-anchor="end" fill="#000" font-weight="normal" transform="translate(319.30,664.00) rotate(-30)">ASD</text>
<text x="0.00" y="0.00" font-size="35.20" text-anchor="end" fill="#000" font-weight="normal" transform="translate(403.20,664.30) rotate(-30)">Control</text>
<text x="0.00" y="0.00" font-size="35.20" text-anchor="end" fill="#000" font-weight="normal" transform="translate(652.00,665.00) rotate(-30)">Anxiety</text>
<text x="0.00" y="0.00" font-size="35.20" text-anchor="end" fill="#000" font-weight="normal" transform="translate(732.30,665.00) rotate(-30)">Depression</text>
<text x="0.00" y="0.00" font-size="35.20" text-anchor="end" fill="#000" font-weight="normal" transform="translate(798.80,663.70) rotate(-30)">ASD</text>
<text x="0.00" y="0.00" font-size="35.20" text-anchor="end" fill="#000" font-weight="normal" transform="translate(868.20,664.20) rotate(-30)">ADHD</text>
<text x="0.00" y="0.00" font-size="35.20" text-anchor="end" fill="#000" font-weight="normal" transform="translate(929.90,664.50) rotate(-30)">Control</text>
</g>
</svg>
</body></html>
